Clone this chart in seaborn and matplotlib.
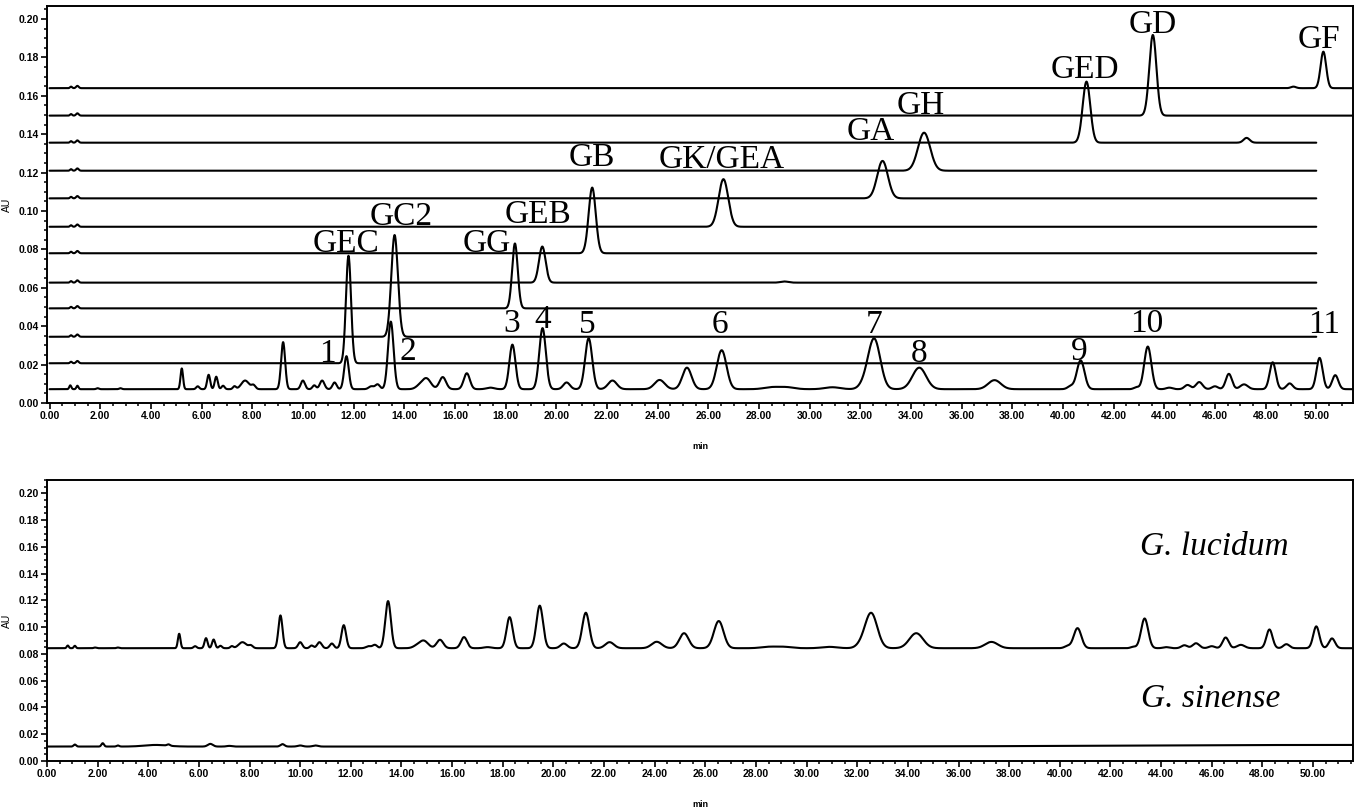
import numpy as np
import pandas as pd
import matplotlib
matplotlib.use("Agg")
import matplotlib.pyplot as plt
import seaborn as sns
from matplotlib.ticker import MultipleLocator, FormatStrFormatter

# ---- peak tables (retention time min, height AU, sigma min) ----
sample_rt = [0.82, 1.10, 1.90, 2.80, 5.22, 5.85, 6.28, 6.58, 6.85, 7.30, 7.72, 8.05,
             9.22, 10.00, 10.45, 10.76, 11.25, 11.72, 12.70, 12.95, 13.47, 14.60, 14.88,
             15.52, 16.47, 17.40, 18.27, 19.46, 20.41, 21.28, 22.22, 24.08, 25.16, 26.53,
             28.50, 29.10, 30.90, 32.15, 32.55, 34.33, 37.30, 40.30, 40.70, 42.90, 43.35,
             44.20, 44.92, 45.38, 46.00, 46.55, 47.15, 48.28, 48.95, 50.13, 50.75]
sample_h = [0.0020, 0.0018, 0.0005, 0.0005, 0.0108, 0.0015, 0.0075, 0.0065, 0.0018, 0.0015,
            0.0045, 0.0020, 0.0245, 0.0045, 0.0020, 0.0045, 0.0035, 0.0172, 0.0015, 0.0025,
            0.0352, 0.0015, 0.0055, 0.0063, 0.0083, 0.0008, 0.0232, 0.0318, 0.0035, 0.0265,
            0.0045, 0.0048, 0.0112, 0.0203, 0.0010, 0.0010, 0.0010, 0.0020, 0.0262, 0.0112,
            0.0047, 0.0015, 0.0150, 0.0010, 0.0222, 0.0008, 0.0022, 0.0037, 0.0015, 0.0080,
            0.0025, 0.0140, 0.0030, 0.0163, 0.0073]
sample_w = [0.04, 0.04, 0.05, 0.05, 0.05, 0.06, 0.06, 0.06, 0.06, 0.06,
            0.15, 0.08, 0.08, 0.08, 0.07, 0.09, 0.08, 0.09, 0.10, 0.09,
            0.11, 0.15, 0.17, 0.13, 0.12, 0.15, 0.12, 0.13, 0.13, 0.14,
            0.17, 0.20, 0.18, 0.19, 0.30, 0.30, 0.30, 0.20, 0.24, 0.27,
            0.25, 0.12, 0.15, 0.10, 0.14, 0.12, 0.12, 0.13, 0.12, 0.12,
            0.15, 0.12, 0.12, 0.12, 0.12]
sample_base = 0.0072
lucidum_base = 0.0843

std_names = ["GEC", "GC2", "GG", "GEB", "GB", "GK/GEA", "GA", "GH", "GED", "GD", "GF"]
std_rt = [11.80, 13.62, 18.37, 19.45, 21.42, 26.60, 32.88, 34.52, 40.93, 43.55, 50.28]
std_h = [0.0560, 0.0530, 0.0338, 0.0188, 0.0342, 0.0248, 0.0195, 0.0198, 0.0318, 0.0420, 0.0190]
std_w = [0.10, 0.13, 0.11, 0.13, 0.14, 0.19, 0.21, 0.24, 0.15, 0.14, 0.11]
std_base = [0.0207, 0.0345, 0.0493, 0.0627, 0.0780, 0.0918, 0.1066, 0.1210, 0.1356, 0.1497, 0.1640]
std_end = [50.0, 50.0, 50.0, 50.0, 50.0, 50.0, 50.0, 50.0, 50.0, 51.6, 51.6]
# minor bumps on the standard traces: (trace index, rt, height, sigma)
std_extra = [(8, 47.25, 0.0025, 0.12), (10, 49.10, 0.0008, 0.10), (3, 29.00, 0.0006, 0.15)]

sinense_rt = [1.10, 2.20, 2.80, 4.30, 4.80, 6.45, 7.20, 9.30, 10.00, 10.60, 51.0]
sinense_h = [0.0015, 0.0025, 0.0008, 0.0012, 0.0010, 0.0020, 0.0005, 0.0018, 0.0008, 0.0008, 0.0012]
sinense_w = [0.05, 0.05, 0.05, 0.45, 0.06, 0.10, 0.10, 0.08, 0.10, 0.10, 8.0]
sinense_base = 0.0108

sample_labels = ["1", "2", "3", "4", "5", "6", "7", "8", "9", "10", "11"]

# label anchor positions (x min, y AU) as laid out in the figure
std_label_xy = [(11.70, 0.0789), (13.90, 0.0928), (17.26, 0.0789), (19.28, 0.0937),
                (21.41, 0.1232), (26.54, 0.1223), (32.43, 0.1371), (34.40, 0.1505),
                (40.87, 0.1692), (43.55, 0.1927), (50.12, 0.1849)]
sample_label_xy = [(10.98, 0.0215), (14.15, 0.0224), (18.22, 0.0372), (19.47, 0.0389),
                   (21.24, 0.0363), (26.45, 0.0363), (32.55, 0.0366), (34.33, 0.0215),
                   (40.64, 0.0224), (43.32, 0.0372), (50.31, 0.0363)]

t = np.arange(0, 51.6, 0.01)


def trace(rts, hs, ws, base):
    y = np.full_like(t, base)
    for r, h, w in zip(rts, hs, ws):
        y += h * np.exp(-0.5 * ((t - r) / w) ** 2)
    return y


sample_y = trace(sample_rt, sample_h, sample_w, sample_base)

rows = [pd.DataFrame({"min": t, "AU": sample_y, "trace": "sample"})]
for i, name in enumerate(std_names):
    rts = [0.85, 1.10, std_rt[i]]
    hs = [0.0008, 0.0012, std_h[i]]
    ws = [0.04, 0.05, std_w[i]]
    for k, r, h, w in std_extra:
        if k == i:
            rts.append(r); hs.append(h); ws.append(w)
    y = trace(rts, hs, ws, std_base[i])
    m = t <= std_end[i]
    rows.append(pd.DataFrame({"min": t[m], "AU": y[m], "trace": name}))
top_df = pd.concat(rows, ignore_index=True)

bot_df = pd.concat([
    pd.DataFrame({"min": t, "AU": sample_y - sample_base + lucidum_base, "trace": "G. lucidum"}),
    pd.DataFrame({"min": t, "AU": trace(sinense_rt, sinense_h, sinense_w, sinense_base),
                  "trace": "G. sinense"}),
], ignore_index=True)

sns.set_style("ticks")
plt.rcParams["font.family"] = ["Liberation Sans", "DejaVu Sans"]
for key in ["text.color", "axes.labelcolor", "xtick.color", "ytick.color", "axes.edgecolor"]:
    plt.rcParams[key] = "black"

fig = plt.figure(figsize=(13.63, 8.07), dpi=100)
ax1 = fig.add_axes([47 / 1363, 1 - 403 / 807, 1306 / 1363, 397 / 807])
ax2 = fig.add_axes([47 / 1363, 1 - 761 / 807, 1306 / 1363, 281 / 807])

sns.lineplot(data=top_df, x="min", y="AU", units="trace", estimator=None,
             color="black", lw=1.5, ax=ax1, sort=False)
sns.lineplot(data=bot_df, x="min", y="AU", units="trace", estimator=None,
             color="black", lw=1.5, ax=ax2, sort=False)

ax1.set_xlim(-0.1, 51.45)
ax1.set_ylim(0, 0.2068)
ax2.set_xlim(0, 51.58)
ax2.set_ylim(0, 0.21)

for ax, ylab_y, xlab_y in [(ax1, 0.5, -0.0975), (ax2, 0.5, -0.139)]:
    ax.xaxis.set_major_locator(MultipleLocator(2))
    ax.xaxis.set_minor_locator(MultipleLocator(0.5))
    ax.yaxis.set_major_locator(MultipleLocator(0.02))
    ax.yaxis.set_minor_locator(MultipleLocator(0.005))
    ax.xaxis.set_major_formatter(FormatStrFormatter("%.2f"))
    ax.yaxis.set_major_formatter(FormatStrFormatter("%.2f"))
    ax.tick_params(which="major", direction="out", length=4, width=1.2, pad=1.5,
                   labelsize=7.5)
    ax.tick_params(which="minor", direction="out", length=2.5, width=1.1)
    for lab in ax.get_xticklabels() + ax.get_yticklabels():
        lab.set_fontweight("bold")
    for s in ax.spines.values():
        s.set_linewidth(1.4)
    ax.set_xlabel("min", fontsize=6.5, fontweight="bold")
    ax.set_ylabel("AU", fontsize=7.5)
    ax.xaxis.set_label_coords(0.5, xlab_y)
    ax.yaxis.set_label_coords(-0.0265, ylab_y)

serif = ["Liberation Serif", "DejaVu Serif"]
for name, (x, y) in zip(std_names, std_label_xy):
    ax1.text(x, y, name, ha="center", va="baseline", fontsize=24, family=serif)
for name, (x, y) in zip(sample_labels, sample_label_xy):
    ax1.text(x, y, name, ha="center", va="baseline", fontsize=24, family=serif)

ax2.text(46.1, 0.1539, "G. lucidum", ha="center", va="baseline", fontsize=24,
         family=serif, style="italic")
ax2.text(45.97, 0.040, "G. sinense", ha="center", va="baseline", fontsize=24,
         family=serif, style="italic")

fig.savefig("out.png", dpi=100)
